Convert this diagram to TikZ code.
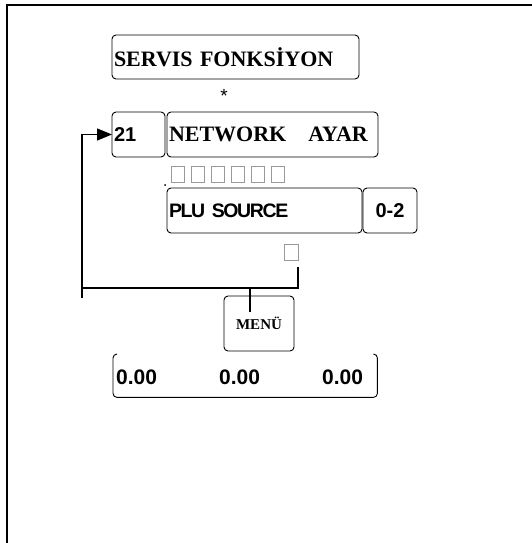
\documentclass[tikz,border=0pt]{standalone}
\usepackage{fontspec}
\setmainfont{Liberation Serif}
\setsansfont{Liberation Sans}
\usetikzlibrary{arrows.meta}
\begin{document}
\begin{tikzpicture}[x=1pt,y=-1pt,
  box/.style={draw=black, line width=0.9pt, rounded corners=4pt, inner sep=0pt, outer sep=0pt},
  lbox/.style={box, anchor=north west, align=left},
  serifb/.style={font=\fontsize{22}{24}\selectfont\bfseries},
  sansb/.style={font=\fontsize{20}{22}\sffamily\bfseries},
  sq/.style={draw=black!40, line width=0.8pt, minimum width=12.5pt, minimum height=16pt, inner sep=0pt, anchor=north west},
  wire/.style={line width=1.3pt, black},
]
\useasboundingbox (0,0) rectangle (531,543);
% frame
\draw[line width=2pt] (6.5,545) -- (6.5,5.5) -- (533,5.5);

% boxes
\node[lbox, serifb, minimum width=247pt, minimum height=44pt, text width=243pt] (servis) at (112,35) {\raisebox{-1pt}{SERVIS FONKS\.{I}YON}};
\node[font=\fontsize{19}{20}\sffamily] (star) at (224,96) {*};
\node[lbox, sansb, minimum width=53pt, minimum height=45pt, text width=49pt] (n21) at (112,112) {\raisebox{-1pt}{21}};
\node[lbox, serifb, minimum width=211pt, minimum height=45pt, text width=207pt] (network) at (167,112) {\raisebox{-1pt}{NETWORK\hspace{22pt}AYAR}};

% gray squares
\node[sq] (s1) at (171,166) {};
\node[sq] (s2) at (191,166) {};
\node[sq] (s3) at (211,166) {};
\node[sq] (s4) at (231,166) {};
\node[sq] (s5) at (251,166) {};
\node[sq] (s6) at (271,166) {};
\fill (165,185) circle (1pt);

\node[lbox, font=\fontsize{19.5}{21}\sffamily\bfseries\addfontfeature{LetterSpace=-7}, minimum width=195pt, minimum height=45pt, text width=191pt] (plu) at (167,188) {\raisebox{-2pt}{PLU SOURCE}};
\node[box, sansb, anchor=north west, minimum width=54pt, minimum height=45pt] (range) at (363,188) {0-2};

\node[sq, minimum width=14pt] (s7) at (284,244) {};

\node[box, anchor=north west, minimum width=70pt, minimum height=55pt, font=\fontsize{15}{16}\selectfont\bfseries] (menu) at (224,296) {\raisebox{-4pt}{MEN\"U}};

% connectors
\coordinate (loopR) at (298,267);
\coordinate (loopB) at (298,288);
\coordinate (loopL) at (82,288);
\coordinate (loopEnd) at (82,298);
\coordinate (loopTop) at (82,134.5);
\coordinate (menuIn) at (250,288);
\draw[wire] (loopR) -- (loopB) -- (loopL);
\draw[wire, -{Triangle[length=15pt,width=12pt]}] (loopEnd) -- (loopTop) -- (n21.west);
\draw[wire] (menuIn) -- (menuIn |- 0,312);

% display
\node[inner sep=0pt, minimum width=264pt, minimum height=43pt, anchor=north west] (disp) at (113,354) {};
\draw[line width=0.9pt, rounded corners=4pt] ([xshift=4pt]disp.north west) -- (disp.north west) -- (disp.south west) -- (disp.south east) -- (disp.north east) -- ([xshift=-4pt]disp.north east);
\node[font=\fontsize{21}{23}\sffamily\bfseries, anchor=west, inner sep=0pt] (v1) at (116,377) {0.00};
\node[font=\fontsize{21}{23}\sffamily\bfseries, anchor=west, inner sep=0pt] (v2) at (219,377) {0.00};
\node[font=\fontsize{21}{23}\sffamily\bfseries, anchor=west, inner sep=0pt] (v3) at (322,377) {0.00};
\end{tikzpicture}
\end{document}
